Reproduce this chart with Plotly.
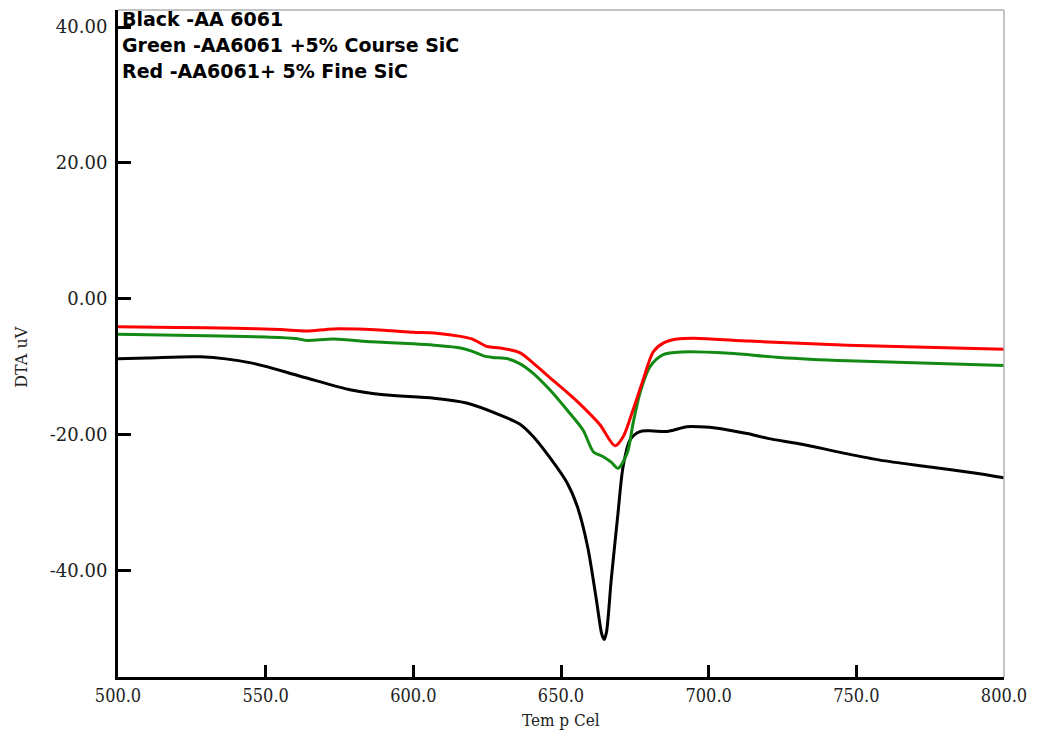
import plotly.graph_objects as go

# Black - AA 6061
black_x = [500, 510, 528, 545, 562, 579, 590, 607, 618, 629, 636, 640.5, 646, 652, 655.5, 659, 662,
           663.8, 664.6, 665.4, 667, 669.3, 671, 673.4, 676.7, 680, 685.7, 688, 692.6, 697, 703, 713,
           720, 732, 745, 758, 775, 790, 800]
black_y = [-8.8, -8.7, -8.5, -9.4, -11.4, -13.4, -14.1, -14.6, -15.3, -17.0, -18.4, -20.2, -23.2, -27.0,
           -30.5, -36.4, -44.3, -49.3, -50.1, -49.0, -41.3, -31.5, -24.7, -20.7, -19.5, -19.4, -19.5,
           -19.3, -18.8, -18.8, -19.0, -19.8, -20.5, -21.4, -22.6, -23.7, -24.7, -25.6, -26.3]

# Red - AA6061 + 5% Fine SiC
red_x = [500, 520, 540, 555, 564, 573, 590, 600, 607, 616, 620, 625, 629.4, 636, 640.5, 646.3, 652,
         657.5, 663.2, 668.3, 671, 674.4, 677.8, 681.2, 684.6, 689.3, 697, 714, 747, 800]
red_y = [-4.1, -4.2, -4.3, -4.5, -4.7, -4.4, -4.6, -4.9, -5.0, -5.5, -5.9, -7.0, -7.2, -7.9, -9.4,
         -11.6, -13.7, -15.9, -18.5, -21.6, -20.3, -16.3, -11.9, -7.8, -6.5, -5.9, -5.8, -6.2, -6.8, -7.4]

# Green - AA6061 + 5% Course SiC
green_x = [500, 530, 550, 560, 564, 573, 586, 600, 607, 616, 620, 624, 627, 632, 636, 640.5, 646.3,
           652, 657.5, 661, 664.3, 667, 669.3, 672.4, 674.4, 676.7, 680.1, 684.6, 691.3, 707, 724, 747, 800]
green_y = [-5.2, -5.4, -5.6, -5.8, -6.1, -5.9, -6.3, -6.6, -6.8, -7.2, -7.7, -8.4, -8.6, -8.8, -9.5,
           -10.9, -13.4, -16.3, -19.3, -22.5, -23.2, -24.0, -24.9, -22.7, -18.3, -13.9, -10.0, -8.2,
           -7.8, -8.0, -8.6, -9.1, -9.8]

x_ticks = [500, 550, 600, 650, 700, 750, 800]
x_tick_text = ["500.0", "550.0", "600.0", "650.0", "700.0", "750.0", "800.0"]
y_ticks = [40, 20, 0, -20, -40]
y_tick_text = ["40.00", "20.00", "0.00", "-20.00", "-40.00"]
legend_lines = ["Black -AA 6061", "Green -AA6061 +5% Course SiC", "Red -AA6061+ 5% Fine SiC"]

fig = go.Figure()
for xs, ys, col in [(black_x, black_y, "#000000"), (green_x, green_y, "#138a13"), (red_x, red_y, "#ff0000")]:
    fig.add_trace(go.Scatter(x=xs, y=ys, mode="lines",
                             line=dict(color=col, width=3, shape="spline", smoothing=0.8),
                             showlegend=False, hoverinfo="skip"))

fig.update_layout(
    width=1027, height=722,
    margin=dict(l=110, r=31, t=2, b=53),
    paper_bgcolor="white", plot_bgcolor="white",
    showlegend=False,
    xaxis=dict(range=[500, 800], tickvals=x_ticks, ticktext=x_tick_text,
               showgrid=False, zeroline=False, showline=True, linecolor="black", linewidth=3,
               ticks="inside", ticklen=12, tickwidth=2.5, tickcolor="black",
               tickfont=dict(family="DejaVu Serif Condensed, DejaVu Serif", size=18, color="#222")),
    yaxis=dict(range=[-55.6, 42.5], tickvals=y_ticks, ticktext=y_tick_text,
               showgrid=False, zeroline=False, showline=True, linecolor="black", linewidth=3,
               ticks="inside", ticklen=13, tickwidth=2.5, tickcolor="black", ticklabelstandoff=4,
               tickfont=dict(family="DejaVu Serif", size=18, color="#222")),
)

# top and right thin grey border
fig.add_shape(type="line", xref="paper", yref="paper", x0=0, x1=1, y0=1, y1=1,
              line=dict(color="#b0b0b0", width=1.5))
fig.add_shape(type="line", xref="paper", yref="paper", x0=1, x1=1, y0=0, y1=1,
              line=dict(color="#b0b0b0", width=1.5))

# axis titles
fig.add_annotation(text="Tem p Cel", xref="paper", yref="paper", x=0.5, y=0, yshift=-43,
                   showarrow=False, font=dict(family="DejaVu Serif Condensed, DejaVu Serif", size=17, color="#222"),
                   xanchor="center", yanchor="middle")
fig.add_annotation(text="DTA uV", xref="paper", yref="y", x=0, xshift=-96, y=-8.5,
                   showarrow=False, textangle=-90,
                   font=dict(family="DejaVu Serif", size=16, color="#222"),
                   xanchor="center", yanchor="middle")

# legend-like text block
for i, t in enumerate(legend_lines):
    fig.add_annotation(text="<b>" + t + "</b>", xref="paper", yref="paper", x=0, xshift=2,
                       y=1, yshift=-9 - 26 * i, showarrow=False, xanchor="left", yanchor="middle",
                       font=dict(family="DejaVu Sans", size=19, color="black"))

fig.write_html("out.html")
